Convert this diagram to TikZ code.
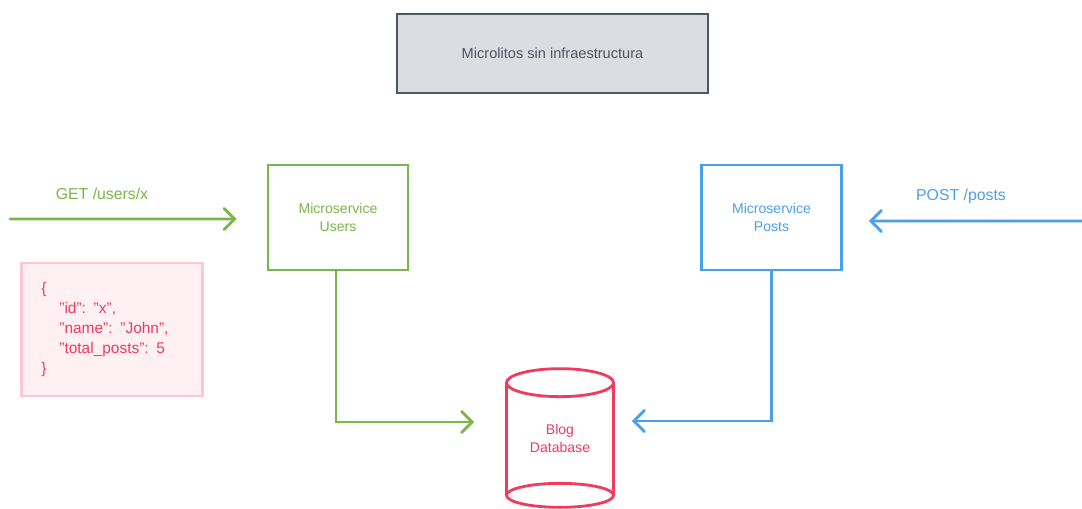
\documentclass[tikz,border=0pt]{standalone}
\usepackage{fontspec}
\setmainfont{Liberation Sans}
\usetikzlibrary{calc,arrows.meta}
\definecolor{usergreen}{HTML}{7AB648}
\definecolor{postblue}{HTML}{4A9FEA}
\definecolor{dbred}{HTML}{F03A5F}
\definecolor{jsonfill}{HTML}{FFF0F3}
\definecolor{jsonline}{HTML}{FFC7D3}
\definecolor{titlefill}{HTML}{DCDDE2}
\definecolor{titleline}{HTML}{4F5563}

\begin{document}
\begin{tikzpicture}[x=0.02cm,y=-0.02cm,
	service/.style={draw,line width=1.6pt,minimum width=2.8cm,minimum height=2.1cm,align=center,font=\fontsize{8}{10}\selectfont},
	flow/.style={line width=1.6pt,line cap=round,-{Straight Barb[length=6pt,width=12pt,line cap=round]}},
	reqlabel/.style={font=\fontsize{9}{11}\selectfont}]
					\useasboundingbox (0,0) rectangle (1082,508);
					%TITLE
					\node[draw=titleline,fill=titlefill,line width=1.6pt,minimum width=6.22cm,minimum height=1.58cm,text=titleline,font=\fontsize{8.3}{10}\selectfont](title) at (552.5,53.5) {Microlitos sin infraestructura};
					%SERVICES
					\node[service,draw=usergreen,text=usergreen](users) at (338,217.5) {Microservice\\Users};
					\node[service,draw=postblue,text=postblue](posts) at (771.5,217.5) {Microservice\\Posts};
					%DATABASE
					\node[minimum width=2.14cm,minimum height=2.78cm,align=center,text=dbred,font=\fontsize{8}{10}\selectfont](db) at (560,438.5) {Blog\\Database};
					\draw[dbred,line width=1.6pt] ($(db.north)+(0,14)$) ellipse (53.5 and 14);
					\draw[dbred,line width=1.6pt] ($(db.north)+(-53.5,14)$) -- ($(db.south)+(-53.5,-13)$);
					\draw[dbred,line width=1.6pt] ($(db.north)+(53.5,14)$) -- ($(db.south)+(53.5,-13)$);
					\draw[dbred,line width=1.6pt] ($(db.south)+(0,-13)$) ellipse (53.5 and 12);
					%JSON
					\node[draw=jsonline,fill=jsonfill,line width=1.6pt,anchor=west,text width=2.82cm,inner xsep=0.4cm,minimum height=2.66cm,align=left,text=dbred,font=\fontsize{8.8}{11.4}\selectfont](json) at (20,329.5) {\{\\
						\hspace{0.36cm}"id": "x",\\
						\hspace{0.36cm}"name": "John",\\
						\hspace{0.36cm}"total\_posts": 5\\
						\}};
					%REQUESTS
					\coordinate (getin) at (10,219);
					\coordinate (postin) at (1082,221);
					\draw[flow,usergreen] (getin) -- ($(users.west)+(-30,1.5)$);
					\node[reqlabel,text=usergreen](getlbl) at (102,194) {GET /users/x};
					\draw[flow,postblue] (postin) -- ($(posts.east)+(26,3.5)$);
					\node[reqlabel,text=postblue](postlbl) at (961,196) {POST /posts};
					%TO DATABASE
					\coordinate (dbin) at ($(db.west)+(-32,-16.5)$);
					\coordinate (dbout) at ($(db.east)+(18,-17.5)$);
					\draw[flow,usergreen] ($(users.south)+(-2,0)$) |- (dbin);
					\draw[flow,postblue] (posts.south) |- (dbout);
	  \end{tikzpicture}
\end{document}
